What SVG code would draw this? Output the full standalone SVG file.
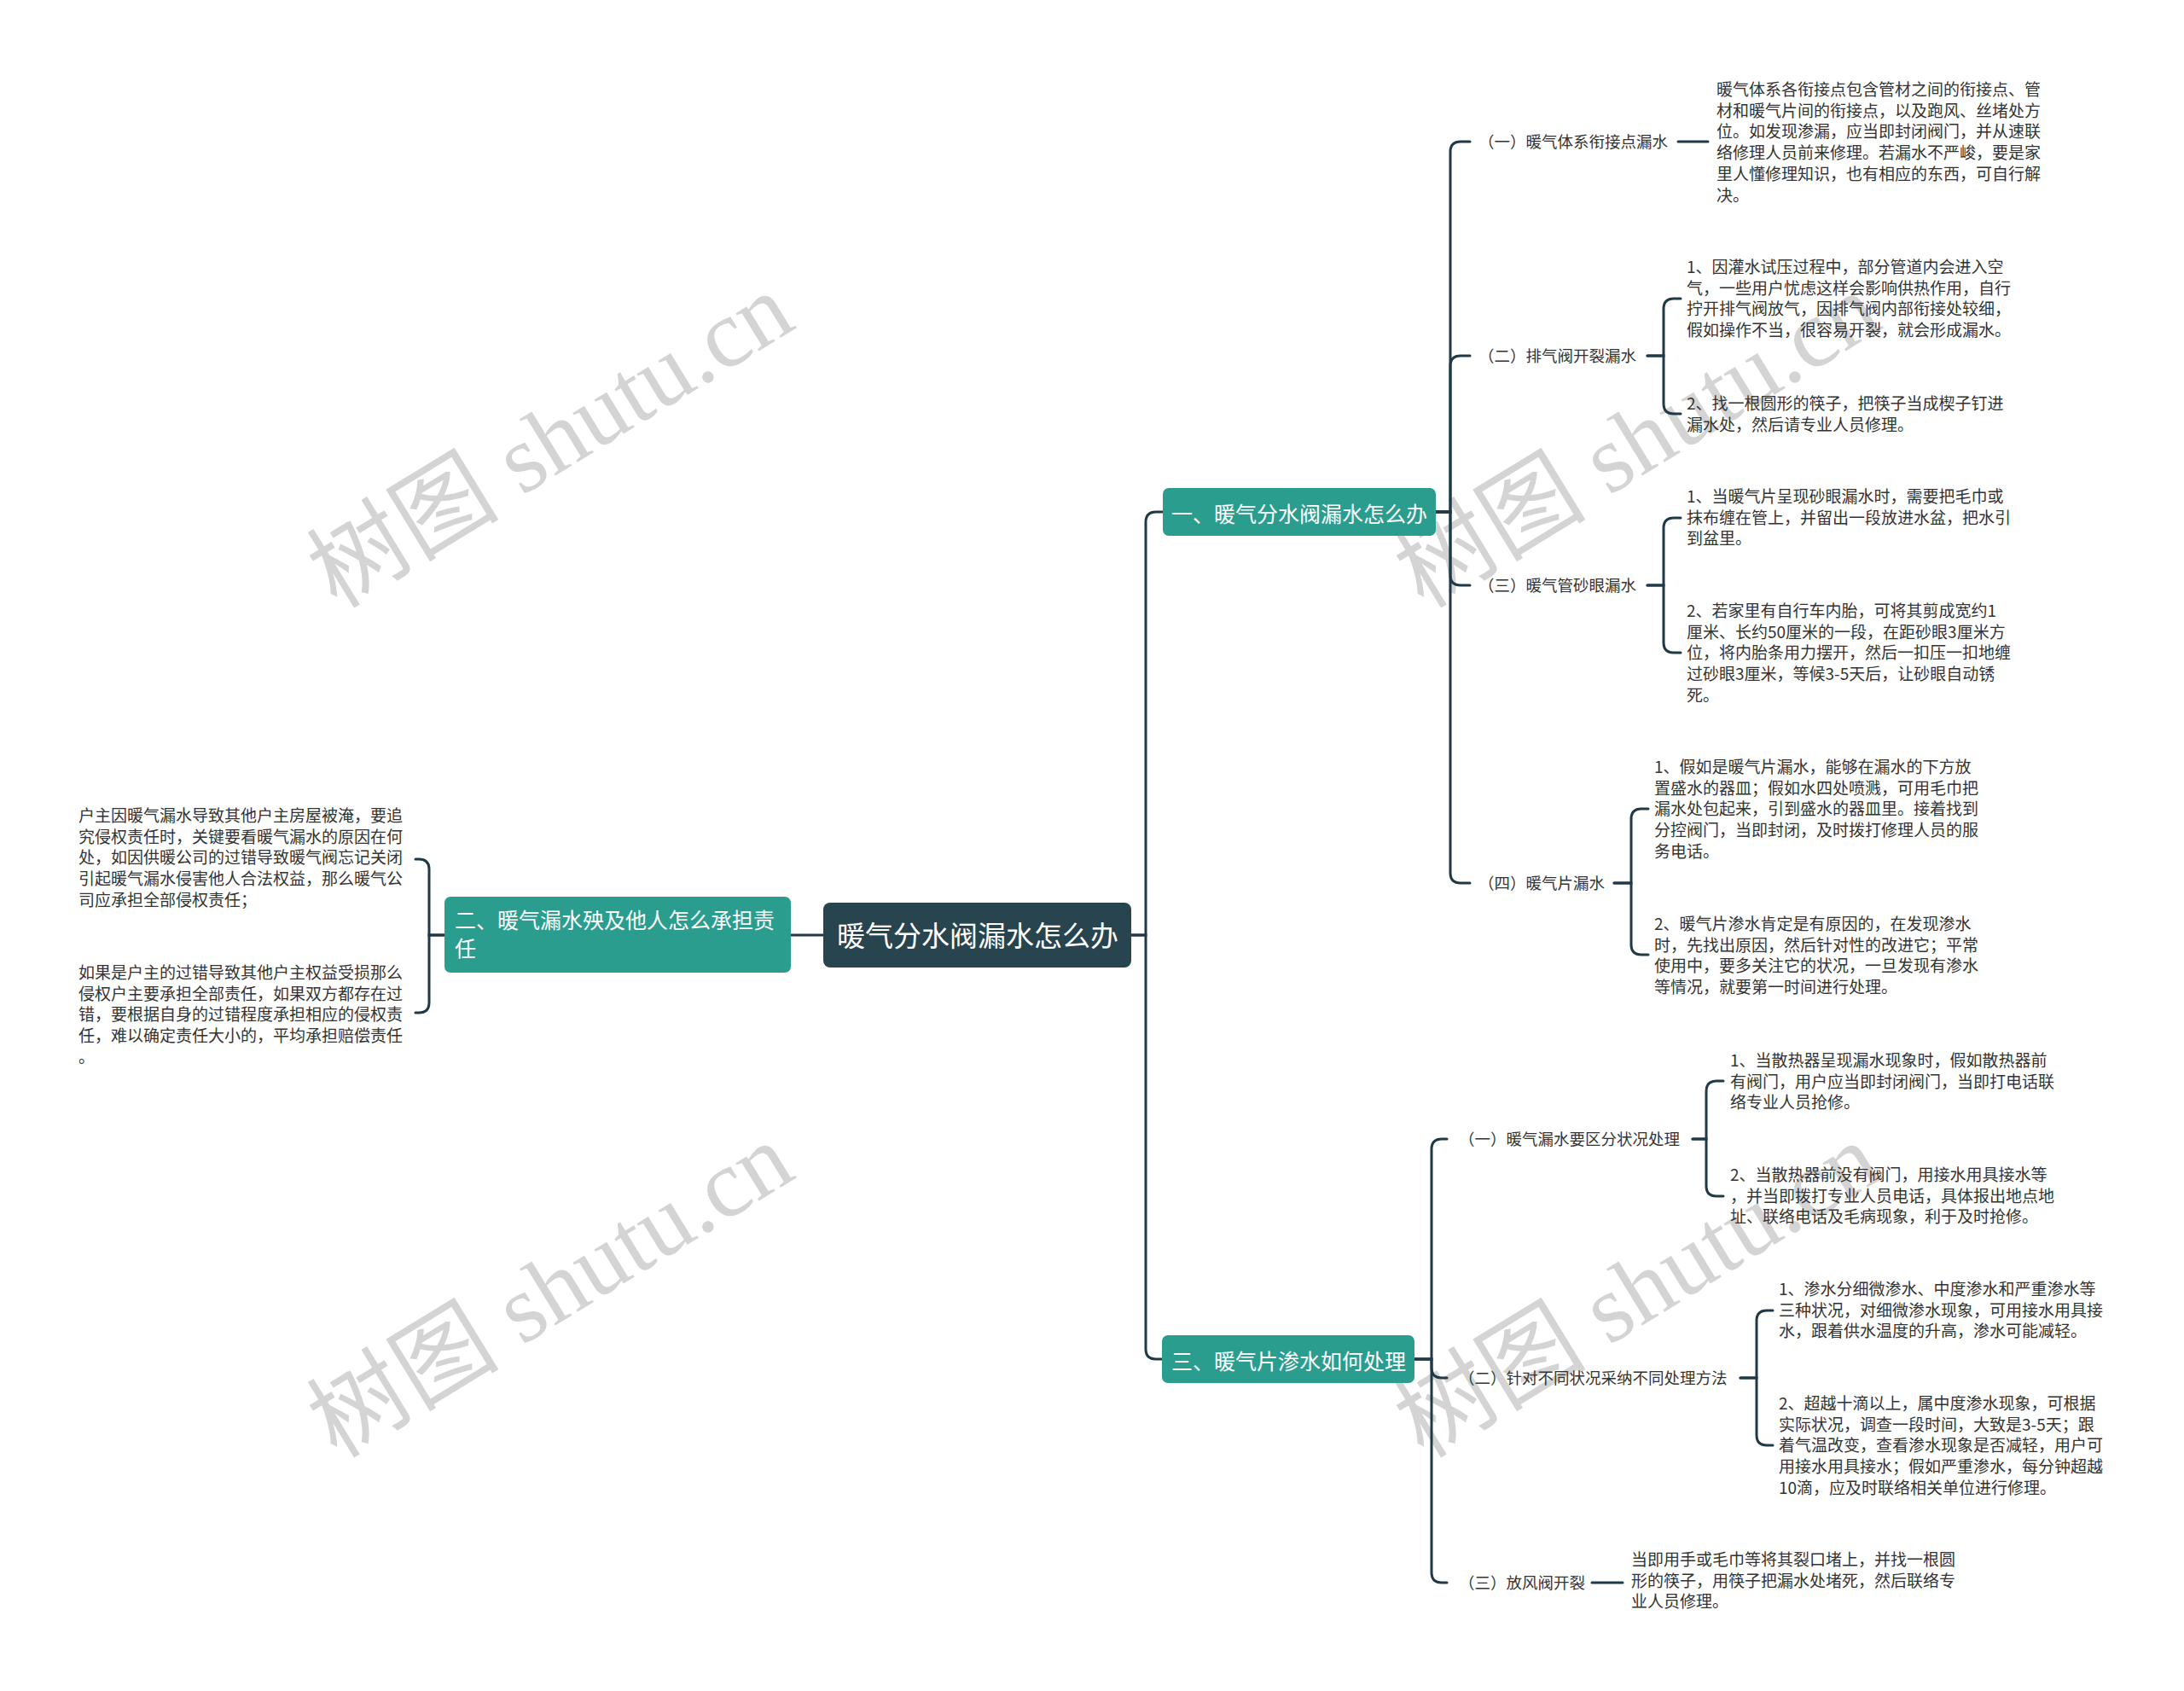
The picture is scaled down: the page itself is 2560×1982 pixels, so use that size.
<svg xmlns="http://www.w3.org/2000/svg" width="2560" height="1982" viewBox="0 0 2560 1982">
<style>
.bg{fill:#ffffff}
.wm{font-family:"Liberation Serif","Noto Sans CJK SC",serif;font-size:113px;fill:#d4d4d4}
.conn path{fill:none;stroke:#1f3a46;stroke-width:3;stroke-linecap:round}
.root rect{fill:#27444f}
.root text{font-family:"Noto Sans CJK SC",sans-serif;font-size:33px;fill:#ffffff}
.main rect{fill:#2a9d8f}
.main text{font-family:"Noto Sans CJK SC",sans-serif;font-size:25px;fill:#ffffff}
.sub text{font-family:"Noto Sans CJK SC",sans-serif;font-size:18.5px;fill:#333333}
.leaf text{font-family:"Noto Sans CJK SC",sans-serif;font-size:19px;fill:#333333}
</style>
<rect class="bg" x="0" y="0" width="2560" height="1982"/>
<g id="watermarks">
<text class="wm" x="645" y="516" text-anchor="middle" dominant-baseline="central" transform="rotate(-31.5 645 516)">树图 shutu.cn</text>
<text class="wm" x="1919" y="516" text-anchor="middle" dominant-baseline="central" transform="rotate(-31.5 1919 516)">树图 shutu.cn</text>
<text class="wm" x="645" y="1512" text-anchor="middle" dominant-baseline="central" transform="rotate(-31.5 645 1512)">树图 shutu.cn</text>
<text class="wm" x="1919" y="1512" text-anchor="middle" dominant-baseline="central" transform="rotate(-31.5 1919 1512)">树图 shutu.cn</text>
</g>
<g id="connectors" class="conn">
<path d="M1326,1096 H1343 V612 Q1343,600 1355,600 H1363"/>
<path d="M1326,1096 H1343 V1581 Q1343,1593 1355,1593 H1362"/>
<path d="M965,1096 H927"/>
<path d="M521,1096 H503 V1019 Q503,1007 491,1007 H487"/>
<path d="M521,1096 H503 V1175 Q503,1187 491,1187 H487"/>
<path d="M1683,600 H1700 V178 Q1700,166 1712,166 H1723"/>
<path d="M1683,600 H1700 V429 Q1700,417 1712,417 H1723"/>
<path d="M1683,600 H1700 V674 Q1700,686 1712,686 H1723"/>
<path d="M1683,600 H1700 V1023 Q1700,1035 1712,1035 H1723"/>
<path d="M1967,166 H2002"/>
<path d="M1931,417 H1950 V362 Q1950,350 1962,350 H1970"/>
<path d="M1931,417 H1950 V473 Q1950,485 1962,485 H1970"/>
<path d="M1931,686 H1950 V619 Q1950,607 1962,607 H1970"/>
<path d="M1931,686 H1950 V753 Q1950,765 1962,765 H1970"/>
<path d="M1892,1035 H1912 V960 Q1912,948 1924,948 H1932"/>
<path d="M1892,1035 H1912 V1107 Q1912,1119 1924,1119 H1932"/>
<path d="M1658,1593 H1678 V1347 Q1678,1335 1690,1335 H1696"/>
<path d="M1658,1593 H1678 V1603 Q1678,1615 1690,1615 H1696"/>
<path d="M1658,1593 H1678 V1843 Q1678,1855 1690,1855 H1696"/>
<path d="M1984,1335 H2000 V1279 Q2000,1267 2012,1267 H2020"/>
<path d="M1984,1335 H2000 V1390 Q2000,1402 2012,1402 H2020"/>
<path d="M2040,1615 H2059 V1548 Q2059,1536 2071,1536 H2078"/>
<path d="M2040,1615 H2059 V1682 Q2059,1694 2071,1694 H2078"/>
<path d="M1866,1855 H1902"/>
</g>
<g id="root" class="root">
<rect x="965" y="1058" width="361" height="76" rx="8"/>
<text x="1146" y="1109" text-anchor="middle">暖气分水阀漏水怎么办</text>
</g>
<g id="branch1" class="main">
<rect x="1363" y="572" width="320" height="56" rx="7"/>
<text x="1373" y="612">一、暖气分水阀漏水怎么办</text>
</g>
<g id="branch2" class="main">
<rect x="521" y="1051" width="406" height="89" rx="7"/>
<text x="533" y="1088">二、暖气漏水殃及他人怎么承担责<tspan x="533" dy="33">任</tspan></text>
</g>
<g id="branch3" class="main">
<rect x="1362" y="1565" width="296" height="56" rx="7"/>
<text x="1373" y="1605">三、暖气片渗水如何处理</text>
</g>
<g id="leaf-2a" class="leaf">
<text x="92" y="963">户主因暖气漏水导致其他户主房屋被淹，要追<tspan x="92" dy="24.7">究侵权责任时，关键要看暖气漏水的原因在何</tspan><tspan x="92" dy="24.7">处，如因供暖公司的过错导致暖气阀忘记关闭</tspan><tspan x="92" dy="24.7">引起暖气漏水侵害他人合法权益，那么暖气公</tspan><tspan x="92" dy="24.7">司应承担全部侵权责任；</tspan></text>
</g>
<g id="leaf-2b" class="leaf">
<text x="92" y="1147">如果是户主的过错导致其他户主权益受损那么<tspan x="92" dy="24.7">侵权户主要承担全部责任，如果双方都存在过</tspan><tspan x="92" dy="24.7">错，要根据自身的过错程度承担相应的侵权责</tspan><tspan x="92" dy="24.7">任，难以确定责任大小的，平均承担赔偿责任</tspan><tspan x="92" dy="24.7">。</tspan></text>
</g>
<g id="sub-1-1" class="sub"><text x="1733" y="173">（一）暖气体系衔接点漏水</text></g>
<g id="sub-1-2" class="sub"><text x="1733" y="424">（二）排气阀开裂漏水</text></g>
<g id="sub-1-3" class="sub"><text x="1733" y="693">（三）暖气管砂眼漏水</text></g>
<g id="sub-1-4" class="sub"><text x="1733" y="1042">（四）暖气片漏水</text></g>
<g id="leaf-1-1" class="leaf">
<text x="2012" y="112">暖气体系各衔接点包含管材之间的衔接点、管<tspan x="2012" dy="24.7">材和暖气片间的衔接点，以及跑风、丝堵处方</tspan><tspan x="2012" dy="24.7">位。如发现渗漏，应当即封闭阀门，并从速联</tspan><tspan x="2012" dy="24.7">络修理人员前来修理。若漏水不严峻，要是家</tspan><tspan x="2012" dy="24.7">里人懂修理知识，也有相应的东西，可自行解</tspan><tspan x="2012" dy="24.7">决。</tspan></text>
</g>
<g id="leaf-1-2a" class="leaf">
<text x="1977" y="320">1、因灌水试压过程中，部分管道内会进入空<tspan x="1977" dy="24.7">气，一些用户忧虑这样会影响供热作用，自行</tspan><tspan x="1977" dy="24.7">拧开排气阀放气，因排气阀内部衔接处较细，</tspan><tspan x="1977" dy="24.7">假如操作不当，很容易开裂，就会形成漏水。</tspan></text>
</g>
<g id="leaf-1-2b" class="leaf">
<text x="1977" y="480">2、找一根圆形的筷子，把筷子当成楔子钉进<tspan x="1977" dy="24.7">漏水处，然后请专业人员修理。</tspan></text>
</g>
<g id="leaf-1-3a" class="leaf">
<text x="1977" y="589">1、当暖气片呈现砂眼漏水时，需要把毛巾或<tspan x="1977" dy="24.7">抹布缠在管上，并留出一段放进水盆，把水引</tspan><tspan x="1977" dy="24.7">到盆里。</tspan></text>
</g>
<g id="leaf-1-3b" class="leaf">
<text x="1977" y="723">2、若家里有自行车内胎，可将其剪成宽约1<tspan x="1977" dy="24.7">厘米、长约50厘米的一段，在距砂眼3厘米方</tspan><tspan x="1977" dy="24.7">位，将内胎条用力摆开，然后一扣压一扣地缠</tspan><tspan x="1977" dy="24.7">过砂眼3厘米，等候3-5天后，让砂眼自动锈</tspan><tspan x="1977" dy="24.7">死。</tspan></text>
</g>
<g id="leaf-1-4a" class="leaf">
<text x="1939" y="906">1、假如是暖气片漏水，能够在漏水的下方放<tspan x="1939" dy="24.7">置盛水的器皿；假如水四处喷溅，可用毛巾把</tspan><tspan x="1939" dy="24.7">漏水处包起来，引到盛水的器皿里。接着找到</tspan><tspan x="1939" dy="24.7">分控阀门，当即封闭，及时拨打修理人员的服</tspan><tspan x="1939" dy="24.7">务电话。</tspan></text>
</g>
<g id="leaf-1-4b" class="leaf">
<text x="1939" y="1090">2、暖气片渗水肯定是有原因的，在发现渗水<tspan x="1939" dy="24.7">时，先找出原因，然后针对性的改进它；平常</tspan><tspan x="1939" dy="24.7">使用中，要多关注它的状况，一旦发现有渗水</tspan><tspan x="1939" dy="24.7">等情况，就要第一时间进行处理。</tspan></text>
</g>
<g id="sub-3-1" class="sub"><text x="1710" y="1342">（一）暖气漏水要区分状况处理</text></g>
<g id="sub-3-2" class="sub"><text x="1710" y="1622">（二）针对不同状况采纳不同处理方法</text></g>
<g id="sub-3-3" class="sub"><text x="1710" y="1862">（三）放风阀开裂</text></g>
<g id="leaf-3-1a" class="leaf">
<text x="2028" y="1250">1、当散热器呈现漏水现象时，假如散热器前<tspan x="2028" dy="24.7">有阀门，用户应当即封闭阀门，当即打电话联</tspan><tspan x="2028" dy="24.7">络专业人员抢修。</tspan></text>
</g>
<g id="leaf-3-1b" class="leaf">
<text x="2028" y="1384">2、当散热器前没有阀门，用接水用具接水等<tspan x="2028" dy="24.7">，并当即拨打专业人员电话，具体报出地点地</tspan><tspan x="2028" dy="24.7">址、联络电话及毛病现象，利于及时抢修。</tspan></text>
</g>
<g id="leaf-3-2a" class="leaf">
<text x="2085" y="1518">1、渗水分细微渗水、中度渗水和严重渗水等<tspan x="2085" dy="24.7">三种状况，对细微渗水现象，可用接水用具接</tspan><tspan x="2085" dy="24.7">水，跟着供水温度的升高，渗水可能减轻。</tspan></text>
</g>
<g id="leaf-3-2b" class="leaf">
<text x="2085" y="1652">2、超越十滴以上，属中度渗水现象，可根据<tspan x="2085" dy="24.7">实际状况，调查一段时间，大致是3-5天；跟</tspan><tspan x="2085" dy="24.7">着气温改变，查看渗水现象是否减轻，用户可</tspan><tspan x="2085" dy="24.7">用接水用具接水；假如严重渗水，每分钟超越</tspan><tspan x="2085" dy="24.7">10滴，应及时联络相关单位进行修理。</tspan></text>
</g>
<g id="leaf-3-3" class="leaf">
<text x="1912" y="1835">当即用手或毛巾等将其裂口堵上，并找一根圆<tspan x="1912" dy="24.7">形的筷子，用筷子把漏水处堵死，然后联络专</tspan><tspan x="1912" dy="24.7">业人员修理。</tspan></text>
</g>
</svg>
